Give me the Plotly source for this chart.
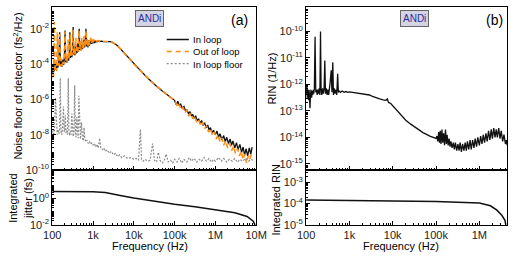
import plotly.graph_objects as go

W, H = 520, 258

# ---------------- Panel (a): noise floor of detector ----------------
# frequencies in Hz, values given as decade exponents
f_inloop = [100, 103, 107, 112, 118, 124, 130, 137, 145, 152, 158, 165, 172, 180, 190, 198, 206, 214, 222, 232,
            242, 252, 262, 270, 278, 290, 302, 314, 325, 336, 348, 360, 372, 385, 398, 410, 425, 440, 457, 472,
            488, 505, 522, 540, 560, 580, 600, 620, 645, 670, 695, 720, 750, 780, 810, 845, 880, 920, 960, 1000,
            1050, 1100, 1170, 1250, 1350, 1450, 1600, 1800, 2000, 2300, 2600, 3000, 4000, 5400, 7000, 8500,
            10000, 15000, 20000, 27000, 35000, 50000, 70000,
            1.0e5, 1.1e5, 1.2e5, 1.3e5, 1.4e5, 1.55e5, 1.7e5, 1.85e5, 2.0e5, 2.2e5, 2.4e5, 2.6e5, 2.8e5, 3.0e5,
            3.3e5, 3.6e5, 3.9e5, 4.2e5, 4.6e5, 5.0e5, 5.5e5, 6.0e5, 6.5e5, 7.0e5, 7.6e5, 8.2e5, 9.0e5, 1.0e6,
            1.1e6, 1.2e6, 1.3e6, 1.45e6, 1.6e6, 1.75e6, 1.9e6, 2.1e6, 2.3e6, 2.5e6, 2.7e6, 3.0e6, 3.3e6, 3.6e6,
            4.0e6, 4.4e6, 4.8e6, 5.2e6, 5.7e6, 6.2e6, 6.8e6, 7.4e6, 8.0e6]
inloop_exp = [-4.3, -4.5, -4.1, -4.4, -4.0, -4.3, -3.95, -4.2, -3.9, -2.2, -4.05, -3.8, -4.15, -3.75, -4.05, -3.65,
              -2.1, -3.9, -3.6, -3.9, -3.5, -3.8, -3.45, -2.2, -3.65, -3.35, -3.6, -3.3, -1.9, -3.45, -3.2, -3.5,
              -2.9, -3.4, -3.15, -3.35, -2.8, -3.3, -2.0, -3.2, -2.95, -3.2, -2.7, -3.15, -2.9, -3.1, -2.6, -3.05,
              -2.8, -2.0, -3.0, -2.75, -3.05, -2.65, -2.95, -2.8, -2.6, -2.85, -2.7, -2.82, -2.66, -2.8, -2.7,
              -2.74, -2.68, -2.72, -2.7, -2.72, -2.71, -2.72, -2.73, -2.77, -2.96, -3.3, -3.55, -3.8,
              -4.0, -4.4, -4.7, -5.0, -5.22, -5.52, -5.8,
              -6.05, -6.3, -6.1, -6.35, -6.25, -6.5, -6.4, -6.65, -6.6, -6.8, -6.7, -6.95, -6.85, -7.05,
              -6.95, -7.2, -7.1, -7.35, -7.2, -7.45, -7.35, -7.6, -7.45, -7.75, -7.6, -7.9, -7.75, -8.0,
              -7.8, -8.15, -7.95, -8.3, -8.05, -8.4, -8.15, -8.5, -8.25, -8.6, -8.35, -8.75, -8.45, -8.85,
              -8.55, -9.0, -8.7, -9.15, -8.8, -9.2, -8.75, -9.1, -8.7]

f_outloop = [100, 104, 108, 112, 116, 122, 128, 133, 138, 145, 152, 158, 166, 174, 182, 190, 198, 206, 214, 224,
             234, 245, 255, 266, 275, 285, 298, 310, 325, 338, 352, 366, 380, 395, 410, 425, 440, 457, 473, 490,
             508, 525, 545, 565, 585, 605, 625, 650, 670, 695, 720, 750, 780, 810, 845, 880, 920, 960, 1000,
             1050, 1100, 1170, 1250, 1350, 1450, 1600, 1800, 2000, 2300, 2600, 3000, 4000, 5400, 7000, 8500,
             10000, 15000, 20000, 27000, 35000, 50000, 70000,
             1.0e5, 1.1e5, 1.2e5, 1.3e5, 1.45e5, 1.6e5, 1.8e5, 2.0e5, 2.2e5, 2.5e5, 2.8e5, 3.1e5, 3.5e5, 3.9e5,
             4.4e5, 4.9e5, 5.5e5, 6.1e5, 6.8e5, 7.6e5, 8.5e5, 9.5e5, 1.05e6, 1.17e6, 1.3e6, 1.45e6, 1.6e6,
             1.8e6, 2.0e6, 2.25e6, 2.5e6, 2.8e6, 3.1e6, 3.5e6, 3.9e6, 4.3e6, 4.8e6, 5.3e6, 5.8e6, 6.4e6, 7.0e6,
             7.6e6]
outloop_exp = [-4.8, -4.2, -4.7, -1.6, -4.3, -3.9, -4.4, -2.2, -4.1, -3.8, -2.3, -4.15, -3.7, -4.1, -3.8, -4.0,
               -3.5, -2.15, -3.8, -3.5, -3.9, -2.6, -3.7, -3.4, -2.3, -3.6, -3.2, -3.5, -2.05, -3.4, -3.1, -3.45,
               -2.5, -3.3, -3.1, -3.35, -2.6, -2.1, -3.15, -2.9, -3.25, -2.5, -3.1, -2.8, -3.15, -2.4, -3.0,
               -2.75, -2.1, -2.9, -2.6, -3.0, -2.6, -2.9, -2.7, -2.5, -2.8, -2.6, -2.77, -2.6, -2.74, -2.65,
               -2.72, -2.66, -2.7, -2.68, -2.7, -2.7, -2.71, -2.73, -2.77, -2.96, -3.3, -3.55, -3.8,
               -4.0, -4.4, -4.7, -5.0, -5.22, -5.52, -5.8,
               -6.07, -6.25, -6.45, -6.3, -6.6, -6.45, -6.75, -6.6, -6.95, -6.8, -7.1, -6.95, -7.3, -7.15,
               -7.5, -7.3, -7.65, -7.5, -7.85, -7.65, -8.05, -7.85, -8.25, -8.0, -8.4, -8.2, -8.6,
               -8.35, -8.75, -8.5, -8.9, -8.65, -9.05, -8.8, -9.2, -8.95, -9.4, -9.1, -9.6, -9.2, -9.4,
               -9.1]

f_floor = [100, 104, 108, 113, 120, 126, 132, 138, 145, 151, 157, 163, 170, 178, 188, 196, 203, 210, 218, 226,
           236, 247, 256, 266, 278, 290, 300, 312, 325, 340, 355, 370, 385, 400, 415, 432, 450, 468, 490, 520,
           550, 580, 600, 630, 670, 710, 760, 820, 880, 950, 1000, 1080, 1150, 1250, 1350, 1450, 1550, 1700,
           1850, 2000, 2200, 2500, 2800, 3200, 3600, 4000, 4500, 5000, 6000, 7000, 8500,
           1.0e4, 1.15e4, 1.3e4, 1.45e4, 1.55e4, 1.7e4, 1.9e4, 2.2e4, 2.5e4, 2.9e4, 3.2e4, 3.6e4, 4.0e4, 4.5e4,
           5.0e4, 5.6e4, 6.2e4, 7.0e4, 8.0e4, 9.0e4, 1.0e5, 1.15e5, 1.3e5, 1.5e5, 1.7e5, 2.0e5, 2.3e5, 2.6e5,
           3.0e5, 3.5e5, 4.0e5, 4.6e5, 5.3e5, 6.0e5, 7.0e5, 8.0e5, 9.0e5, 1.0e6, 1.2e6, 1.4e6, 1.6e6, 1.9e6,
           2.2e6, 2.6e6, 3.0e6, 3.5e6, 4.0e6, 4.7e6, 5.5e6, 6.5e6, 7.5e6, 8.5e6]
floor_exp = [-7.9, -7.7, -8.05, -7.75, -5.9, -7.8, -8.0, -7.7, -7.95, -7.75, -4.8, -7.8, -8.0, -7.7, -6.4, -7.85,
             -7.7, -6.9, -7.9, -7.75, -8.0, -4.8, -7.8, -8.05, -7.8, -8.0, -6.8, -7.9, -8.1, -7.85, -5.2, -8.0,
             -8.15, -7.0, -8.0, -8.2, -5.8, -8.05, -8.25, -7.3, -8.2, -8.35, -7.6, -8.25, -8.4, -8.3, -8.5,
             -8.4, -8.55, -8.45, -8.6, -8.5, -8.7, -8.55, -8.75, -8.2, -8.75, -8.85, -8.75, -8.95, -8.85,
             -9.05, -8.95, -9.15, -9.05, -9.25, -9.15, -9.3, -9.2, -9.35, -9.3,
             -9.4, -9.35, -9.45, -7.7, -9.4, -9.5, -9.4, -9.5, -9.45, -8.5, -9.45, -9.55, -9.0, -9.5,
             -9.6, -9.45, -9.1, -9.55, -9.45, -9.6, -9.4, -9.55, -9.35, -9.6, -9.4, -9.55, -9.3, -9.5,
             -9.35, -9.55, -9.4, -9.5, -9.3, -9.5, -9.35, -9.55, -9.4, -9.5, -9.3, -9.5, -9.35, -9.55,
             -9.4, -9.5, -9.35, -9.55, -9.4, -9.5, -9.35, -9.5, -9.4, -9.45]

f_jitter = [100, 300, 1000, 2000, 3000, 5000, 10000, 30000, 1.0e5, 3.16e5, 1.0e6, 3.0e6, 6.0e6, 8.5e6, 9.4e6, 9.9e6]
jitter_fs = [3.3, 3.24, 3.1, 2.75, 2.24, 1.58, 1.05, 0.60, 0.36, 0.23, 0.135, 0.081, 0.042, 0.018, 0.0095, 0.003]

# ---------------- Panel (b): RIN ----------------
f_rin = [100, 102, 104, 106, 108, 111, 114, 117, 120, 123, 126, 130, 134, 138, 142, 146, 150, 155, 161, 167,
         173, 180, 187, 194, 201, 208, 215, 222, 230, 240, 250, 260, 270, 280, 292, 305, 318, 332, 345, 360,
         380, 395, 413, 428, 445, 465, 490, 510, 535, 555, 580, 620, 680, 750, 830, 920, 1000, 1200, 1500,
         2000, 2500, 2900, 3400, 4000, 5000, 6000, 7000, 7500, 8000, 9000, 1.0e4, 1.2e4, 1.6e4, 2.0e4, 2.6e4,
         3.8e4, 5.0e4, 7.4e4, 1.0e5, 1.05e5, 1.1e5, 1.15e5, 1.2e5, 1.25e5, 1.3e5, 1.37e5, 1.43e5, 1.5e5,
         1.57e5, 1.65e5, 1.73e5, 1.8e5, 1.9e5, 2.0e5, 2.1e5, 2.2e5, 2.35e5, 2.5e5, 2.65e5, 2.8e5, 3.0e5,
         3.2e5, 3.4e5, 3.6e5, 3.85e5, 4.1e5, 4.4e5, 4.7e5, 5.0e5, 5.3e5, 5.7e5, 6.1e5, 6.5e5, 7.0e5, 7.5e5,
         8.0e5, 8.6e5, 9.2e5, 1.0e6, 1.07e6, 1.15e6, 1.23e6, 1.32e6, 1.42e6, 1.52e6, 1.63e6, 1.75e6, 1.88e6,
         2.0e6, 2.15e6, 2.3e6, 2.45e6, 2.6e6, 2.8e6, 3.0e6, 3.2e6, 3.45e6, 3.7e6, 4.0e6, 4.2e6, 4.4e6]
rin_exp = [-12.1, -12.4, -12.0, -12.5, -12.2, -12.35, -12.6, -12.2, -12.7, -12.9, -12.4, -12.2, -12.5, -12.25,
           -12.4, -12.2, -12.35, -12.15, -10.2, -12.3, -12.2, -12.4, -12.2, -12.35, -12.15, -12.4, -10.0,
           -12.2, -12.4, -12.15, -12.35, -12.2, -11.1, -12.35, -12.15, -12.4, -12.2, -12.4, -12.2, -11.9,
           -11.47, -12.3, -11.16, -12.4, -12.15, -12.35, -12.2, -12.4, -11.6, -12.3, -12.25, -12.3, -12.25,
           -12.3, -12.27, -12.3, -12.28, -12.3, -12.32, -12.35, -12.38, -12.4, -12.45, -12.5, -12.55, -12.58,
           -12.6, -12.55, -12.68, -12.72, -12.8, -12.95, -13.18, -13.35, -13.5, -13.68, -13.82, -13.96,
           -14.04, -13.95, -14.15, -13.8, -14.2, -13.75, -14.25, -13.7, -14.2, -13.85, -14.3, -13.7, -14.25,
           -13.9, -14.3, -14.05, -14.35, -14.15, -14.4, -14.2, -14.45, -14.2, -14.5, -14.25, -14.5, -14.2,
           -14.55, -14.25, -14.5, -14.2, -14.5, -14.15, -14.45, -14.1, -14.45, -14.1, -14.4, -14.05, -14.35,
           -14.0, -14.3, -13.95, -14.25, -13.9, -14.2, -13.85, -14.15, -13.75, -14.1, -13.7, -14.05, -13.65,
           -14.0, -13.7, -14.0, -13.65, -14.05, -13.75, -14.15, -13.9, -14.25, -14.1, -14.3]

f_irin = [100, 1000, 1.0e4, 1.0e5, 1.0e6, 1.8e6, 2.5e6, 3.3e6, 3.9e6, 4.2e6, 4.35e6]
irin = [1.5e-4, 1.45e-4, 1.35e-4, 1.26e-4, 1.07e-4, 7.9e-5, 5.0e-5, 2.8e-5, 1.6e-5, 1.0e-5, 5.0e-6]

# tick labels
x_tickvals = [100, 1000, 1e4, 1e5, 1e6, 1e7]
x_ticktext = ["100", "1k", "10k", "100k", "1M", "10M"]
ya_label_exps = [-10, -8, -6, -4, -2]
ya2_label_exps = [-2, 0]
yb_label_exps = [-15, -14, -13, -12, -11, -10]
yb2_label_exps = [-5, -4, -3]
legend_names = ["In loop", "Out of loop", "In loop floor"]

FONT = "Liberation Sans, Arial, sans-serif"
BLACK = "#111111"
ORANGE = "#ff8c10"
GRAY = "#8c8c8c"


def p10(vals):
    return [10 ** v for v in vals]


def px(x):
    return x / W


def py(y):
    return 1 - y / H


def minor_vals(e_lo, e_hi, major_vals):
    out = []
    for e in range(e_lo, e_hi + 1):
        for m in range(1, 10):
            v = m * 10.0 ** e
            if not any(abs(v - mv) / mv < 1e-9 for mv in major_vals):
                out.append(v)
    return out


fig = go.Figure()

fig.add_trace(go.Scatter(x=f_inloop, y=p10(inloop_exp), mode="lines", line=dict(color=BLACK, width=1.3),
                         xaxis="x", yaxis="y", showlegend=False))
fig.add_trace(go.Scatter(x=f_outloop, y=p10(outloop_exp), mode="lines",
                         line=dict(color=ORANGE, width=1.6, dash="5px,3px"),
                         xaxis="x", yaxis="y", showlegend=False))
fig.add_trace(go.Scatter(x=f_floor, y=p10(floor_exp), mode="lines",
                         line=dict(color=GRAY, width=1.2, dash="2px,1.5px"),
                         xaxis="x", yaxis="y", showlegend=False))
fig.add_trace(go.Scatter(x=f_jitter, y=jitter_fs, mode="lines", line=dict(color=BLACK, width=1.5),
                         xaxis="x2", yaxis="y2", showlegend=False))
fig.add_trace(go.Scatter(x=f_rin, y=p10(rin_exp), mode="lines", line=dict(color=BLACK, width=1.3),
                         xaxis="x3", yaxis="y3", showlegend=False))
fig.add_trace(go.Scatter(x=f_irin, y=irin, mode="lines", line=dict(color=BLACK, width=1.5),
                         xaxis="x4", yaxis="y4", showlegend=False))

xa_dom = [px(45), px(257)]
xb_dom = [px(309), px(518)]
y_main = [py(174), py(7.5)]
y_low = [py(230), py(174)]

tickfont = dict(family=FONT, size=11, color="#222")
axis_common = dict(type="log", showline=True, linecolor="black", linewidth=1, mirror=True, ticks="inside",
                   ticklen=4, tickcolor="black", showgrid=False, zeroline=False, tickfont=tickfont,
                   tickmode="array")


def minor_cfg(e_lo, e_hi, majors):
    return dict(ticks="inside", ticklen=2, tickcolor="black", showgrid=False, tickmode="array",
                tickvals=minor_vals(e_lo, e_hi, majors))


def y_axis(label_exps, e_lo, e_hi, dom, rng, anchor):
    majors = [10.0 ** e for e in label_exps]
    return dict(axis_common, domain=dom, range=rng, anchor=anchor, tickvals=majors,
                ticktext=["10<sup>%d</sup>" % e for e in label_exps], minor=minor_cfg(e_lo, e_hi, majors))


def x_axis(dom, rng, anchor, labels):
    d = dict(axis_common, domain=dom, range=rng, anchor=anchor, tickvals=x_tickvals,
             minor=minor_cfg(2, 7, x_tickvals))
    if labels:
        d["ticktext"] = x_ticktext
    else:
        d["showticklabels"] = False
    return d


fig.update_layout(
    xaxis=x_axis(xa_dom, [2, 7], "y", False),
    yaxis=y_axis(ya_label_exps, -10, -1, y_main, [-10, -0.78], "x"),
    xaxis2=x_axis(xa_dom, [2, 7], "y2", True),
    yaxis2=y_axis(ya2_label_exps, -2, 2, y_low, [-2, 2.15], "x2"),
    xaxis3=x_axis(xb_dom, [2, 6.64], "y3", False),
    yaxis3=y_axis(yb_label_exps, -16, -10, y_main, [-15.23, -9.09], "x3"),
    xaxis4=x_axis(xb_dom, [2, 6.64], "y4", True),
    yaxis4=y_axis(yb2_label_exps, -5, -3, y_low, [-5, -2.4], "x4"),
)

ann = []


def add_text(text, x, y, size=11, angle=0, xanchor="center", yanchor="middle", color="black", **kw):
    ann.append(dict(text=text, x=px(x), y=py(y), xref="paper", yref="paper", showarrow=False,
                    textangle=angle, xanchor=xanchor, yanchor=yanchor,
                    font=dict(family=FONT, size=size, color=color), **kw))


add_text("Noise floor of detector (fs<sup>2</sup>/Hz)", 9, 88, size=11, angle=-90)
add_text("Integrated<br>jitter (fs)", 12, 203, size=11, angle=-90)
add_text("RIN (1/Hz)", 274, 80, size=11, angle=-90)
add_text("Integrated RIN", 278, 204, size=11, angle=-90)
add_text("Frequency (Hz)", 147, 252, size=11)
add_text("Frequency (Hz)", 408, 252, size=11)
add_text("(a)", 240, 20, size=14)
add_text("(b)", 505, 20, size=14)
for cx, cy in [(146.5, 18.5), (422, 19)]:
    add_text("ANDi", cx, cy, size=10, color="#2b2ba0", bgcolor="#d3d3e3", bordercolor="#666666",
             borderwidth=1, borderpad=2)

# manual legend: one multi-line text block + sample lines
LEG_FS = 9.5
line_gap = 1.3 * LEG_FS
leg_center = 52.8
add_text("<br>".join(legend_names), 189, leg_center, size=LEG_FS, xanchor="left", align="left")
leg_styles = [(BLACK, "solid", 1.5), (ORANGE, "5px,4px", 1.6), (GRAY, "2px,2px", 1.2)]
shapes = []
for i, (col, dash, wd) in enumerate(leg_styles):
    yy = leg_center + (i - 1) * line_gap
    shapes.append(dict(type="line", xref="paper", yref="paper", x0=px(164), x1=px(187), y0=py(yy), y1=py(yy),
                       line=dict(color=col, width=wd, dash=dash)))

fig.update_layout(annotations=ann, shapes=shapes, width=W, height=H, autosize=False,
                  margin=dict(l=0, r=0, t=0, b=0), paper_bgcolor="white", plot_bgcolor="white",
                  font=dict(family=FONT))

fig.write_html("out.html")
